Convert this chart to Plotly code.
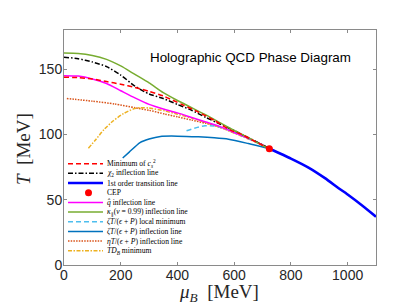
import plotly.graph_objects as go

# ---------------- data (MeV) ----------------
cs2_mu = [0, 50, 100, 150, 200, 250, 300, 350, 415, 475, 532, 585, 627, 668, 703, 724]
cs2_T = [143.8, 143.5, 142.5, 140.5, 138.5, 136.0, 133.0, 129.5, 123.0, 117.0, 110.5, 103.5, 100.0, 95.3, 91.3, 89.0]

chi2_mu = [0, 50, 100, 150, 200, 250, 300, 350, 400, 450, 500, 550, 600, 650, 700, 724]
chi2_T = [159.2, 158.0, 155.5, 152.0, 145.5, 137.0, 131.0, 127.5, 123.0, 118.5, 113.0, 108.0, 103.0, 97.5, 92.0, 89.0]

first_mu = [724, 800, 862, 920, 967, 1000, 1050, 1100]
first_T = [89.0, 81.5, 74.6, 66.5, 59.0, 54.0, 45.8, 37.0]

cep_mu = [724]
cep_T = [89.0]

qhat_mu = [0, 50, 100, 150, 200, 250, 300, 350, 400, 450, 500, 550, 600, 650, 700, 724]
qhat_T = [145.0, 144.7, 142.5, 139.0, 133.5, 128.0, 123.0, 119.5, 116.5, 113.0, 109.5, 106.0, 101.5, 97.0, 92.0, 89.0]

kappa_mu = [0, 50, 100, 150, 200, 250, 300, 350, 400, 450, 500, 550, 600, 650, 700, 724]
kappa_T = [162.3, 162.0, 160.5, 157.5, 152.5, 146.0, 139.5, 132.0, 126.0, 120.5, 115.0, 109.0, 103.0, 97.5, 91.5, 89.0]

zmin_mu = [432, 460, 497, 530, 560, 600, 650, 700, 724]
zmin_T = [102.8, 104.8, 106.7, 106.5, 105.0, 101.5, 96.8, 91.8, 89.0]

zinf_mu = [207, 230, 268, 300, 340, 400, 474, 530, 580, 650, 724]
zinf_T = [82.0, 86.5, 93.8, 96.5, 98.5, 98.7, 98.2, 97.5, 96.4, 93.0, 89.0]

eta_mu = [10, 100, 180, 250, 300, 356, 400, 450, 500, 533, 600, 650, 700, 724]
eta_T = [127.5, 125.5, 123.3, 120.5, 118.5, 115.6, 113.5, 111.0, 108.5, 106.7, 101.5, 97.0, 92.0, 89.0]

tdb_mu = [86, 110, 140, 174, 210, 244, 270, 300, 356, 400, 450, 500, 550, 600, 650, 700, 724]
tdb_T = [89.5, 95.5, 103.5, 110.5, 116.0, 119.5, 120.5, 120.2, 118.0, 115.5, 112.5, 109.0, 105.5, 101.0, 96.5, 91.8, 89.0]

x_ticks = [0, 200, 400, 600, 800, 1000]
y_ticks = [0, 50, 100, 150]

names = [
    "Minimum of <i>c</i><sub><i>s</i></sub><sup>2</sup>",
    "<i>χ</i><sub>2</sub> inflection line",
    "1st order transition line",
    "CEP",
    "<i>q̂</i> inflection line",
    "<i>κ</i><sub>∥</sub>(<i>v</i> = 0.99) inflection line",
    "<i>ζT</i>/(<i>ϵ</i> + <i>P</i>) local minimum",
    "<i>ζT</i>/(<i>ϵ</i> + <i>P</i>) inflection line",
    "<i>ηT</i>/(<i>ϵ</i> + <i>P</i>) inflection line",
    "<i>TD</i><sub><i>B</i></sub> minimum",
]

# ---------------- styles ----------------
RED, BLACK, BLUE, MAG = "#FF0000", "#000000", "#0000FF", "#FF00FF"
GREEN, CYAN, STEEL, ORANGE, YEL = "#77AC30", "#4DBEEE", "#0072BD", "#D95319", "#EDB120"

series = [
    (cs2_mu, cs2_T, RED, "5px,3px", 1.5),
    (chi2_mu, chi2_T, BLACK, "5px,2px,1.5px,2px", 1.5),
    (first_mu, first_T, BLUE, "solid", 2.6),
    None,
    (qhat_mu, qhat_T, MAG, "solid", 1.5),
    (kappa_mu, kappa_T, GREEN, "solid", 1.5),
    (zmin_mu, zmin_T, CYAN, "5px,3px", 1.5),
    (zinf_mu, zinf_T, STEEL, "solid", 1.5),
    (eta_mu, eta_T, ORANGE, "1.5px,1.2px", 1.5),
    (tdb_mu, tdb_T, YEL, "4px,1.5px,1.5px,1.5px", 1.5),
]

fig = go.Figure()
draw_order = [8, 9, 6, 7, 4, 1, 5, 0, 2]
for i in draw_order:
    mu, T, col, dash, w = series[i]
    fig.add_trace(go.Scatter(x=mu, y=T, mode="lines", line=dict(color=col, dash=dash, width=w, shape="spline", smoothing=0.6),
                             showlegend=False, hoverinfo="skip"))
fig.add_trace(go.Scatter(x=cep_mu, y=cep_T, mode="markers", marker=dict(color=RED, size=7),
                         showlegend=False, hoverinfo="skip"))

# ---------------- layout ----------------
W, H = 407, 305
L, R, TOP, BOT = 56, 368, 22, 257
pw, ph = R - L, BOT - TOP

def px(xp):
    return (xp - L) / pw

def py(yp):
    return (BOT - yp) / ph

axis_common = dict(showgrid=False, zeroline=False, showline=True, linecolor="#8a8a8a", linewidth=1,
                   mirror="ticks", ticks="inside", ticklen=3, tickcolor="#8a8a8a",
                   tickfont=dict(family="Liberation Sans, Arial", size=14, color="#262626"))

fig.update_layout(
    width=W, height=H,
    margin=dict(l=L, r=W - R, t=TOP, b=H - BOT),
    paper_bgcolor="white", plot_bgcolor="white",
    showlegend=False,
    xaxis=dict(range=[0, 1100], tickvals=x_ticks, ticklabelstandoff=-3, **axis_common),
    yaxis=dict(range=[0, 180], tickvals=y_ticks, ticklabelstandoff=-2, **axis_common),
)

# title and axis titles
fig.add_annotation(text="Holographic QCD Phase Diagram", xref="paper", yref="paper",
                   x=px(242.5), y=py(49.3), showarrow=False, xanchor="center", yanchor="middle",
                   font=dict(family="Liberation Sans, Arial", size=13.4, color="#000000"))
fig.add_annotation(text="<i>μ</i><sub><i>B</i></sub>\u00a0 [MeV]", xref="paper", yref="paper",
                   x=px(211), y=py(285), showarrow=False, xanchor="center", yanchor="middle",
                   font=dict(family="Liberation Serif, Times New Roman", size=19, color="#262626"))
fig.add_annotation(text="<i>T</i>\u00a0 [MeV]", xref="paper", yref="paper", textangle=-90,
                   x=px(15), y=py(141), showarrow=False, xanchor="center", yanchor="middle",
                   font=dict(family="Liberation Serif, Times New Roman", size=19, color="#262626"))

# custom compact legend
shapes = []
for i, name in enumerate(names):
    yy = 155.7 + 9.67 * i
    if series[i] is None:
        shapes.append(dict(type="circle", xref="paper", yref="paper", x0=px(77.0), x1=px(84.0),
                           y0=py(yy + 3.5), y1=py(yy - 3.5), fillcolor=RED, line=dict(width=0)))
    else:
        _, _, col, dash, w = series[i]
        shapes.append(dict(type="line", xref="paper", yref="paper", x0=px(60), x1=px(95),
                           y0=py(yy), y1=py(yy), line=dict(color=col, dash=dash, width=w)))
    fig.add_annotation(text=name, xref="paper", yref="paper", x=px(97), y=py(yy), showarrow=False,
                       xanchor="left", yanchor="middle",
                       font=dict(family="Liberation Serif, Times New Roman", size=7.6, color="#000000"))
fig.update_layout(shapes=shapes)

fig.write_html("out.html")
